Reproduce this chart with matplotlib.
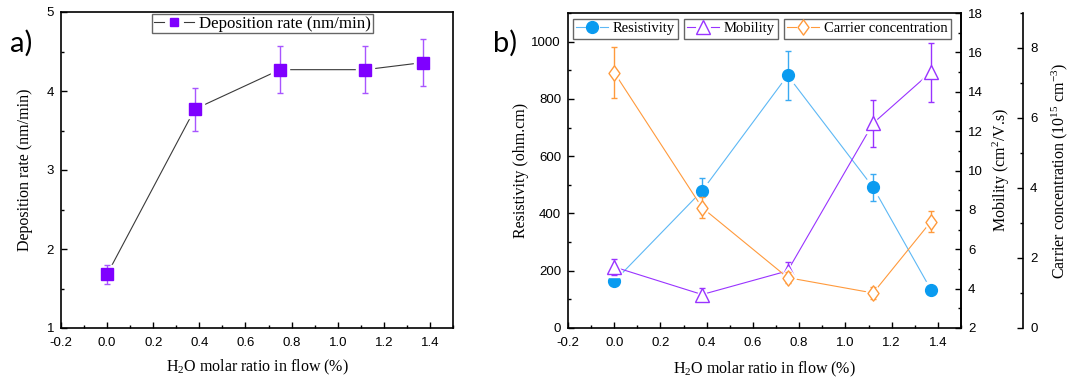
import matplotlib
matplotlib.use("Agg")
import matplotlib.pyplot as plt
from matplotlib.ticker import MultipleLocator, FormatStrFormatter
from matplotlib.lines import Line2D
from matplotlib.path import Path
from matplotlib.legend_handler import HandlerBase

# H2O molar ratio in the gas flow (%)
h2o_ratio = [0.0, 0.38, 0.75, 1.12, 1.37]

# a) deposition rate (nm/min)
dep_rate = [1.68, 3.77, 4.27, 4.27, 4.36]
dep_err = [0.12, 0.27, 0.30, 0.30, 0.30]

# b) electrical properties
resistivity = [163, 479, 882, 491, 134]      # ohm.cm
res_err = [10, 46, 86, 48, 8]
mobility = [5.1, 3.7, 4.9, 12.4, 15.0]       # cm2/V.s
mob_err = [0.4, 0.35, 0.45, 1.2, 1.5]
carrier = [7.3, 3.44, 1.44, 1.0, 3.04]       # 1e15 cm-3
car_err = [0.73, 0.30, 0.15, 0.18, 0.29]

SERIF = "Liberation Serif"
SANS = "Liberation Sans"

plt.rcParams["font.family"] = SANS
plt.rcParams["axes.unicode_minus"] = False
plt.rcParams["mathtext.fontset"] = "custom"
plt.rcParams["mathtext.rm"] = SERIF
plt.rcParams["mathtext.it"] = SERIF + ":italic"

LABEL_FS = 11.5
TICK_FS = 9.5

# tall, narrow diamond
thin_diamond = Path([(0, 1), (0.72, 0), (0, -1), (-0.72, 0), (0, 1)],
                    [Path.MOVETO, Path.LINETO, Path.LINETO, Path.LINETO, Path.CLOSEPOLY])


class GapLineHandler(HandlerBase):
    """Legend key drawn as: line - marker - line, with small gaps around the marker."""

    def __init__(self, scale=1.0, gap=0.24, **kw):
        super().__init__(**kw)
        self.scale = scale
        self.gap = gap

    def create_artists(self, legend, orig, xdescent, ydescent, width, height, fontsize, trans):
        y = height / 2 - ydescent
        x0, x1 = -xdescent, -xdescent + width
        xm = (x0 + x1) / 2
        g = self.gap * width
        line_kw = dict(color=orig.get_color(), lw=orig.get_linewidth())
        left = Line2D([x0, xm - g], [y, y], **line_kw)
        right = Line2D([xm + g, x1], [y, y], **line_kw)
        mark = Line2D([xm], [y], ls="none", marker=orig.get_marker(),
                      ms=orig.get_markersize() * self.scale,
                      mfc=orig.get_markerfacecolor(), mec=orig.get_markeredgecolor(),
                      mew=orig.get_markeredgewidth())
        for a in (left, right, mark):
            a.set_transform(trans)
        return [left, right, mark]


def draw_series(ax, x, y, err, color, line_color, err_color, marker, ms, face):
    ax.plot(x, y, color=line_color, lw=0.8, zorder=1)
    # white halo keeps the connecting line clear of the markers
    ax.plot(x, y, ls="none", marker=marker, ms=ms + 5, mfc="white", mec="white", zorder=2)
    ax.errorbar(x, y, yerr=err, fmt="none", ecolor=err_color, elinewidth=1.0,
                capsize=2.4, capthick=1.0, zorder=3)
    ax.plot(x, y, ls="none", marker=marker, ms=ms, mfc=face, mec=color, mew=1.0, zorder=4)
    return Line2D([], [], color=line_color, lw=0.8, marker=marker, ms=ms,
                  mfc=face, mec=color, mew=1.0)


def style_ticks(ax, which_axis="both", **kw):
    ax.tick_params(axis=which_axis, which="major", direction="in", length=4.5, width=1.0,
                   labelsize=TICK_FS, pad=5, **kw)
    ax.tick_params(axis=which_axis, which="minor", direction="in", length=2.5, width=1.0, **kw)


def legend_box(ax, handle, label, x0, y0, fs, scale=1.0, hl=2.2, bp=0.22):
    leg = ax.legend([handle], [label], loc="upper left", bbox_to_anchor=(x0, y0),
                    borderaxespad=0, frameon=True, fancybox=False, numpoints=1,
                    handlelength=hl, handletextpad=0.3, borderpad=bp,
                    handler_map={Line2D: GapLineHandler(scale=scale)},
                    prop={"family": SERIF, "size": fs})
    leg.get_frame().set_edgecolor("#404040")
    leg.get_frame().set_linewidth(1.0)
    return leg


fig = plt.figure(figsize=(10.68, 3.79), dpi=100)
W, H = 1068, 379

# ---------------- a) deposition rate ----------------
axA = fig.add_axes([61 / W, 51 / H, 392 / W, 316 / H])
hA = draw_series(axA, h2o_ratio, dep_rate, dep_err, color="#7F00FF", line_color="#3a3a3a",
                 err_color="#A855FF", marker="s", ms=8, face="#7F00FF")
axA.set_xlim(-0.2, 1.5)
axA.set_ylim(1, 5)
axA.xaxis.set_major_locator(MultipleLocator(0.2))
axA.xaxis.set_minor_locator(MultipleLocator(0.1))
axA.xaxis.set_major_formatter(FormatStrFormatter("%.1f"))
axA.yaxis.set_major_locator(MultipleLocator(1))
axA.yaxis.set_minor_locator(MultipleLocator(0.5))
style_ticks(axA, top=False, right=False)
axA.tick_params(axis="x", which="major", pad=6.5)
for s in axA.spines.values():
    s.set_linewidth(1.2)
axA.set_xlabel(r"H$_\mathregular{2}$O molar ratio in flow (%)", family=SERIF, fontsize=LABEL_FS)
axA.set_ylabel("Deposition rate (nm/min)", family=SERIF, fontsize=LABEL_FS)
axA.xaxis.set_label_coords(0.5, -0.095)
axA.yaxis.set_label_coords(-0.071, 0.5)
legend_box(axA, hA, "Deposition rate (nm/min)", 0.232, 0.994, 12.2, scale=0.8, hl=2.4, bp=0.1)

# ---------------- b) electrical properties ----------------
axB = fig.add_axes([568 / W, 51 / H, 393 / W, 315 / H])
axM = axB.twinx()
axC = axB.twinx()
axC.spines["right"].set_position(("axes", 1.158))
for ax in (axM, axC):
    for side in ("left", "top", "bottom"):
        ax.spines[side].set_visible(False)

hR = draw_series(axB, h2o_ratio, resistivity, res_err, color="#0A9BF0", line_color="#5DB8F5",
                 err_color="#3AAAF2", marker="o", ms=8.5, face="#0A9BF0")
hM = draw_series(axM, h2o_ratio, mobility, mob_err, color="#9933FF", line_color="#9933FF",
                 err_color="#9933FF", marker="^", ms=10, face="white")
hC = draw_series(axC, h2o_ratio, carrier, car_err, color="#FF9A3C", line_color="#FF9A3C",
                 err_color="#FF9A3C", marker=thin_diamond, ms=11, face="white")

axB.set_xlim(-0.2, 1.5)
axB.set_ylim(0, 1100)
axM.set_ylim(2, 18)
axC.set_ylim(0, 9)
axB.xaxis.set_major_locator(MultipleLocator(0.2))
axB.xaxis.set_minor_locator(MultipleLocator(0.1))
axB.xaxis.set_major_formatter(FormatStrFormatter("%.1f"))
axB.yaxis.set_major_locator(MultipleLocator(200))
axB.yaxis.set_minor_locator(MultipleLocator(100))
axM.yaxis.set_major_locator(MultipleLocator(2))
axM.yaxis.set_minor_locator(MultipleLocator(1))
axC.yaxis.set_major_locator(MultipleLocator(2))
axC.yaxis.set_minor_locator(MultipleLocator(1))
style_ticks(axB, top=False, right=False)
axB.tick_params(axis="x", which="major", pad=6.5)
style_ticks(axM, which_axis="y")
style_ticks(axC, which_axis="y")
for ax in (axB, axM, axC):
    for s in ax.spines.values():
        s.set_linewidth(1.2)

axB.set_xlabel(r"H$_\mathregular{2}$O molar ratio in flow (%)", family=SERIF, fontsize=LABEL_FS)
axB.set_ylabel("Resistivity (ohm.cm)", family=SERIF, fontsize=LABEL_FS)
axM.set_ylabel(r"Mobility (cm$^\mathregular{2}$/V.s)", family=SERIF, fontsize=LABEL_FS)
axC.set_ylabel(r"Carrier concentration (10$^\mathregular{15}$ cm$^\mathregular{-3}$)",
               family=SERIF, fontsize=LABEL_FS)
axB.xaxis.set_label_coords(0.5, -0.1)
axB.yaxis.set_label_coords(-0.099, 0.5)
axM.yaxis.set_label_coords(1.076, 0.5)
axC.yaxis.set_label_coords(1.224, 0.5)

# three separate legend boxes along the top
legC = legend_box(axC, hC, "Carrier concentration", 0.55, 0.981, 10.5)
legM = legend_box(axC, hM, "Mobility", 0.295, 0.981, 10.5)
axC.add_artist(legC)
legR = legend_box(axC, hR, "Resistivity", 0.0127, 0.981, 10.5)
axC.add_artist(legM)

# panel letters
fig.text(21 / W, 1 - 43 / H, "a)", family="Lato", fontsize=21, ha="center", va="center")
fig.text(505 / W, 1 - 43 / H, "b)", family="Lato", fontsize=21, ha="center", va="center")

fig.savefig("out.png", dpi=100)
